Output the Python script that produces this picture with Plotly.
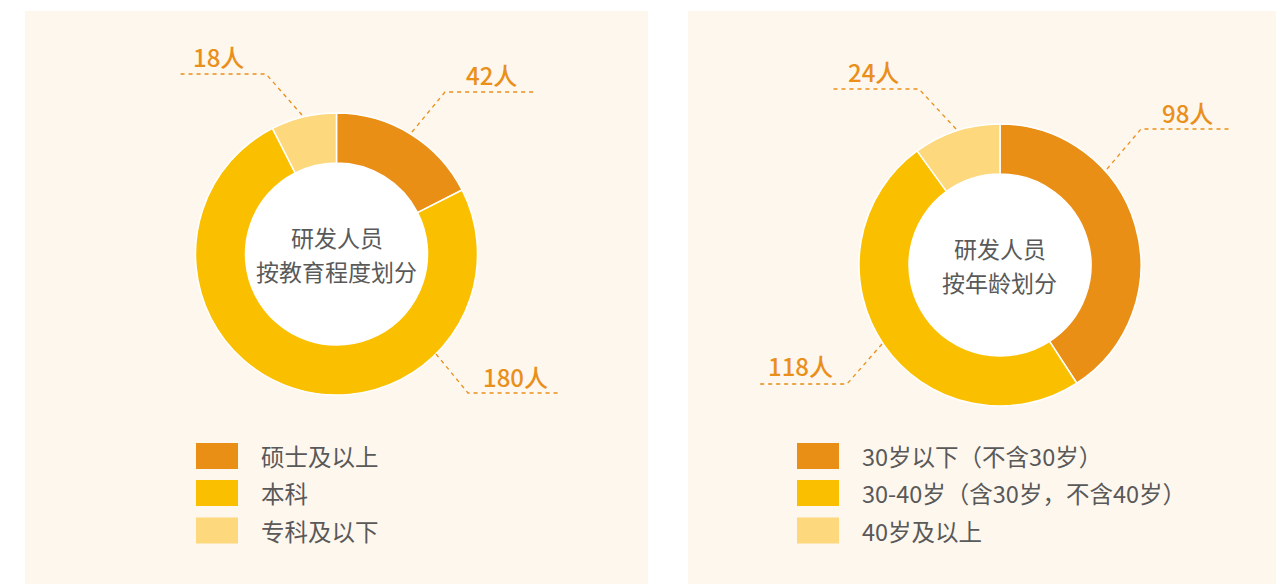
import plotly.graph_objects as go

# page has an 8px body margin; the figure is sized to fill the rest of the window
OFF = 8
W, H = 1284 - OFF, 584 - OFF

# ---- data ----
edu_categories = ["硕士及以上", "本科", "专科及以下"]
edu_values = [42, 180, 18]
age_categories = ["30岁以下（不含30岁）", "30-40岁（含30岁，不含40岁）", "40岁及以上"]
age_values = [98, 118, 24]
edu_title = ["研发人员", "按教育程度划分"]
age_title = ["研发人员", "按年龄划分"]
unit = "人"

# ---- style ----
colors = ["#E98F16", "#FAC000", "#FDD87C"]
panel_bg = "#FEF7EE"
label_color = "#E98F1A"
text_gray = "#595959"
FONT = "Noto Sans CJK SC"

# pixel (window) -> paper helpers
def px(x):
    return (x - OFF) / W

def py(y):
    return 1 - (y - OFF) / H

R = 141
HOLE_R = 91
left_c = (336.5, 254)
right_c = (1000, 265)

fig = go.Figure()

def add_pie(vals, cats, center):
    cx, cy = center
    fig.add_trace(go.Pie(
        values=vals, labels=cats, sort=False, direction="clockwise", rotation=0,
        hole=HOLE_R / R, textinfo="none", hoverinfo="skip",
        marker=dict(colors=colors, line=dict(color="#FFFFFF", width=1.5)),
        domain=dict(x=[px(cx - R), px(cx + R)], y=[py(cy + R), py(cy - R)]),
        showlegend=False,
    ))

add_pie(edu_values, edu_categories, left_c)
add_pie(age_values, age_categories, right_c)

shapes = []
annotations = []

# panels
for x0, x1 in [(25, 648), (688, 1300)]:
    shapes.append(dict(type="rect", xref="paper", yref="paper", layer="below",
                       x0=px(x0), x1=px(x1), y0=py(600), y1=py(11),
                       fillcolor=panel_bg, line=dict(width=0)))
# white holes
for cx, cy in [left_c, right_c]:
    shapes.append(dict(type="circle", xref="paper", yref="paper", layer="below",
                       x0=px(cx - HOLE_R), x1=px(cx + HOLE_R),
                       y0=py(cy + HOLE_R), y1=py(cy - HOLE_R),
                       fillcolor="#FFFFFF", line=dict(width=0)))

# leader lines + value labels (positions per label)
leaders_left = [
    # start, elbow, end, text center
    ((412, 132), (445, 92), (536, 92), (491, 75)),
    ((436, 354), (468, 393), (558, 393), (515, 376)),
    ((302, 115), (266, 74), (177, 74), (218, 57)),
]
leaders_right = [
    ((1107, 169), (1141, 129), (1232, 129), (1187, 112)),
    ((882, 344), (847, 384), (757, 384), (800, 365)),
    ((956, 129), (919, 89), (831, 89), (873, 71)),
]

def add_leaders(vals, leaders):
    for v, (s, e, t, c) in zip(vals, leaders):
        path = f"M {px(s[0])} {py(s[1])} L {px(e[0])} {py(e[1])} L {px(t[0])} {py(t[1])}"
        shapes.append(dict(type="path", xref="paper", yref="paper", path=path,
                           line=dict(color=label_color, width=1.3, dash="4px,4px")))
        annotations.append(dict(x=px(c[0]), y=py(c[1]), xref="paper", yref="paper",
                                text=f"{v}{unit}", showarrow=False,
                                xanchor="center", yanchor="middle",
                                font=dict(family=FONT, size=24, weight=500, color=label_color)))

add_leaders(edu_values, leaders_left)
add_leaders(age_values, leaders_right)

# center titles
for lines, (cx, cy) in [(edu_title, left_c), (age_title, right_c)]:
    for i, line in enumerate(lines):
        annotations.append(dict(x=px(cx), y=py(cy - 17 + 34 * i), xref="paper", yref="paper",
                                text=line, showarrow=False, xanchor="center", yanchor="middle",
                                font=dict(family=FONT, size=23, color=text_gray)))

# legends
legend_rows_y = [456, 493, 530.5]
for cats, sq_x0, txt_x in [(edu_categories, 196, 259), (age_categories, 797, 860)]:
    for i, cat in enumerate(cats):
        yc = legend_rows_y[i]
        shapes.append(dict(type="rect", xref="paper", yref="paper",
                           x0=px(sq_x0), x1=px(sq_x0 + 42), y0=py(yc + 13), y1=py(yc - 13),
                           fillcolor=colors[i], line=dict(width=0)))
        annotations.append(dict(x=px(txt_x), y=py(yc), xref="paper", yref="paper",
                                text=cat, showarrow=False, xanchor="left", yanchor="middle",
                                font=dict(family=FONT, size=23.5, color=text_gray)))

fig.update_layout(
    width=W, height=H, margin=dict(l=0, r=0, t=0, b=0),
    paper_bgcolor="#FFFFFF", plot_bgcolor="#FFFFFF",
    shapes=shapes, annotations=annotations, showlegend=False,
)

fig.write_html("out.html")
